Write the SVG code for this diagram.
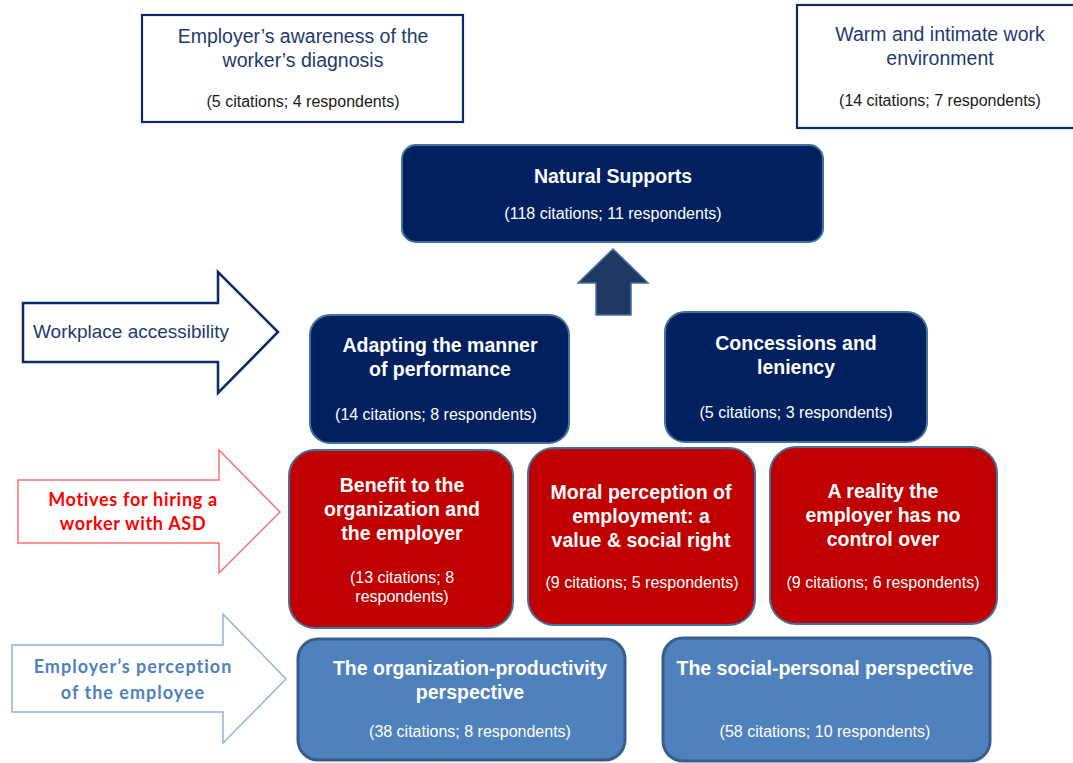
<svg xmlns="http://www.w3.org/2000/svg" width="1073" height="763" viewBox="0 0 1073 763">
  <style>
    .t { font-family: "Liberation Sans", Arial, sans-serif; text-anchor: middle; }
    .title { font-size: 19.5px; font-weight: bold; fill: #ffffff; }
    .sub { font-size: 16px; fill: #ffffff; }
    .otitle { font-size: 19.5px; fill: #1f3a6e; }
    .osub { font-size: 16px; fill: #1a1a1a; }
    .outline { fill: #ffffff; stroke: #0b2a66; stroke-width: 2.2; }
    .navy { fill: #00205f; stroke: #41719c; stroke-width: 2; }
    .red { fill: #c00000; stroke: #41719c; stroke-width: 2; }
    .blue { fill: #4f81bd; stroke: #385d8a; stroke-width: 3; }
    .lbl { font-family: Lato, "Open Sans", sans-serif; font-weight: bold; text-anchor: middle; font-size: 18px; }
  </style>

  <rect width="1073" height="763" fill="#ffffff"/>

  <!-- connectors: upward block arrow into the main theme -->
  <g id="connectors">
    <polygon points="613,249 648,283 631,283 631,315 596,315 596,283 578,283" fill="#1f3864" stroke="#41719c" stroke-width="1.5"/>
  </g>

  <!-- side category arrows -->
  <g id="arrow-workplace">
    <polygon points="23,303 218,303 218,272 278,332 218,393 218,362 23,362" fill="#ffffff" stroke="#0b2a66" stroke-width="2.5"/>
    <text x="33" y="338" font-family="Liberation Sans, Arial, sans-serif" font-size="19px" fill="#1f3a6e">Workplace accessibility</text>
  </g>
  <g id="arrow-motives">
    <polygon points="18,480 219,480 219,450 280,512 219,573 219,543 18,543" fill="#ffffff" stroke="#ff6f6f" stroke-width="1.5"/>
    <text class="lbl" x="133" y="506" fill="#ff0000" letter-spacing="0.7">Motives for hiring a</text>
    <text class="lbl" x="133" y="530" fill="#ff0000" letter-spacing="0.7">worker with ASD</text>
  </g>
  <g id="arrow-perception">
    <polygon points="12,645 223,645 223,614 286,679 223,743 223,712 12,712" fill="#ffffff" stroke="#8db3e2" stroke-width="1.5"/>
    <text class="lbl" x="133" y="673" fill="#4f81bd" letter-spacing="1">Employer’s perception</text>
    <text class="lbl" x="133" y="699" fill="#4f81bd" letter-spacing="1">of the employee</text>
  </g>

  <!-- outlined sub-themes at the top -->
  <g id="awareness">
    <rect class="outline" x="142" y="15" width="321" height="107"/>
    <text class="t otitle" x="303" y="43">Employer’s awareness of the</text>
    <text class="t otitle" x="303" y="67">worker’s diagnosis</text>
    <text class="t osub" x="303" y="107">(5 citations; 4 respondents)</text>
  </g>
  <g id="warm-environment">
    <rect class="outline" x="797" y="5" width="290" height="123"/>
    <text class="t otitle" x="940" y="41">Warm and intimate work</text>
    <text class="t otitle" x="940" y="65">environment</text>
    <text class="t osub" x="940" y="106">(14 citations; 7 respondents)</text>
  </g>

  <!-- main theme -->
  <g id="natural-supports">
    <rect class="navy" x="402" y="145" width="421" height="97" rx="14"/>
    <text class="t title" x="613" y="183">Natural Supports</text>
    <text class="t sub" x="613" y="219">(118 citations; 11 respondents)</text>
  </g>

  <!-- workplace accessibility -->
  <g id="adapting">
    <rect class="navy" x="310" y="315" width="259" height="128" rx="20"/>
    <text class="t title" x="440" y="352">Adapting the manner</text>
    <text class="t title" x="440" y="376">of performance</text>
    <text class="t sub" x="436" y="420">(14 citations; 8 respondents)</text>
  </g>
  <g id="concessions">
    <rect class="navy" x="665" y="312" width="262" height="130" rx="20"/>
    <text class="t title" x="796" y="350">Concessions and</text>
    <text class="t title" x="796" y="374">leniency</text>
    <text class="t sub" x="796" y="418">(5 citations; 3 respondents)</text>
  </g>

  <!-- hiring motives -->
  <g id="benefit">
    <rect class="red" x="289" y="450" width="224" height="178" rx="26"/>
    <text class="t title" x="402" y="492">Benefit to the</text>
    <text class="t title" x="402" y="516">organization and</text>
    <text class="t title" x="402" y="540">the employer</text>
    <text class="t sub" x="402" y="583">(13 citations; 8</text>
    <text class="t sub" x="402" y="602">respondents)</text>
  </g>
  <g id="moral">
    <rect class="red" x="528" y="448" width="227" height="177" rx="26"/>
    <text class="t title" x="641" y="499">Moral perception of</text>
    <text class="t title" x="641" y="523">employment: a</text>
    <text class="t title" x="641" y="547">value &amp; social right</text>
    <text class="t sub" x="642" y="588">(9 citations; 5 respondents)</text>
  </g>
  <g id="reality">
    <rect class="red" x="770" y="447" width="227" height="177" rx="26"/>
    <text class="t title" x="883" y="498">A reality the</text>
    <text class="t title" x="883" y="522">employer has no</text>
    <text class="t title" x="883" y="546">control over</text>
    <text class="t sub" x="883" y="588">(9 citations; 6 respondents)</text>
  </g>

  <!-- perception of the employee -->
  <g id="org-productivity">
    <rect class="blue" x="298" y="639" width="327" height="121" rx="20"/>
    <text class="t title" x="470" y="675">The organization-productivity</text>
    <text class="t title" x="470" y="699">perspective</text>
    <text class="t sub" x="470" y="737">(38 citations; 8 respondents)</text>
  </g>
  <g id="social-personal">
    <rect class="blue" x="663" y="638" width="327" height="123" rx="20"/>
    <text class="t title" x="825" y="675">The social-personal perspective</text>
    <text class="t sub" x="825" y="737">(58 citations; 10 respondents)</text>
  </g>
</svg>
